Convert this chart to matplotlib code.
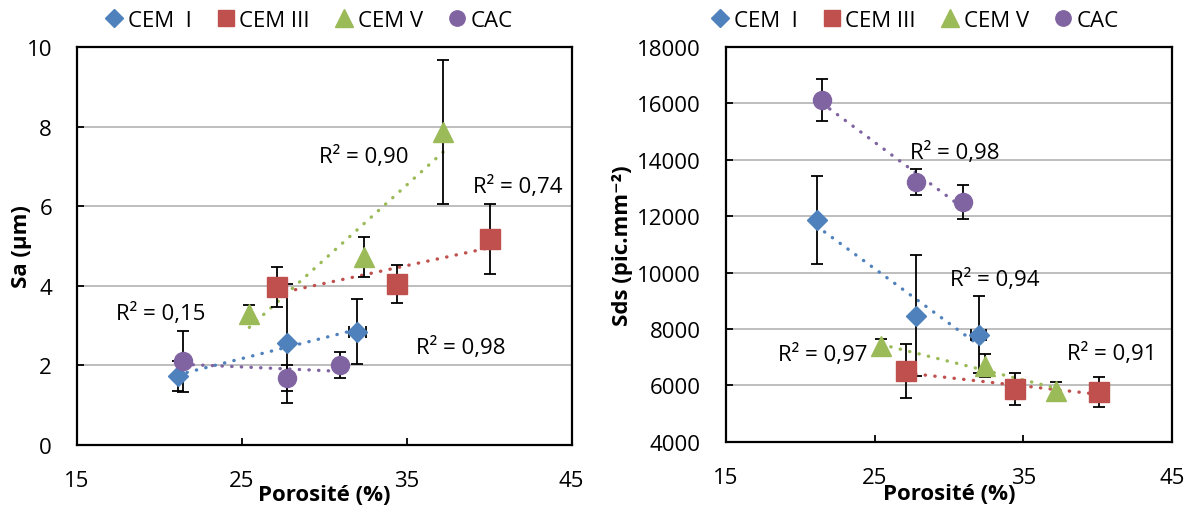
import numpy as np
import matplotlib
matplotlib.use("Agg")
import matplotlib.pyplot as plt

plt.rcParams['font.family'] = ['Open Sans', 'DejaVu Sans']

# porosity (%) for each binder
series = ["CEM  I", "CEM III", "CEM V", "CAC"]
por_cem1 = [21.1, 27.75, 32.0]
por_cem3 = [27.1, 34.4, 40.05]
por_cem5 = [25.45, 32.4, 37.2]
por_cac = [21.45, 27.75, 30.95]
xerr_cem1 = [0.0, 0.0, 0.5]

# Sa (µm)
sa_cem1 = [1.72, 2.55, 2.84]
sa_cem1_err = [0.38, 1.49, 0.82]
sa_cem3 = [3.97, 4.05, 5.18]
sa_cem3_err = [0.50, 0.48, 0.88]
sa_cem5 = [3.29, 4.72, 7.85]
sa_cem5_err = [0.22, 0.50, 1.81]
sa_cac = [2.10, 1.67, 2.00]
sa_cac_err = [0.77, 0.33, 0.33]
sa_r2 = ["R² = 0,90", "R² = 0,74", "R² = 0,15", "R² = 0,98"]
sa_r2_pos = [(32.37, 7.25), (41.7, 6.5), (20.1, 3.3), (38.3, 2.45)]

# Sds (pic.mm-2)
sds_cem1 = [11880, 8470, 7790]
sds_cem1_err = [1560, 2150, 1370]
sds_cem3 = [6500, 5870, 5760]
sds_cem3_err = [960, 570, 520]
sds_cem5 = [7380, 6700, 5800]
sds_cem5_err = [270, 410, 330]
sds_cac = [16120, 13220, 12500]
sds_cac_err = [750, 470, 590]
sds_r2 = ["R² = 0,98", "R² = 0,94", "R² = 0,97", "R² = 0,91"]
sds_r2_pos = [(30.4, 14270), (33.1, 9780), (21.5, 7110), (40.9, 7140)]

colors = ["#4F81BD", "#C0504D", "#9BBB59", "#8064A2"]
markers = ["D", "s", "^", "o"]
msizes = [10.2, 14, 14.5, 13]


def draw_panel(ax, xs, ys, errs, ylim, yticks, ylabel, r2, r2_pos):
    for i in range(4):
        x = np.array(xs[i])
        y = np.array(ys[i])
        xe = xerr_cem1 if i == 0 else None
        ax.errorbar(x, y, yerr=errs[i], xerr=xe, fmt='none', ecolor='black',
                    elinewidth=1.3, capsize=4.5, capthick=1.3, zorder=3)
        # linear trendline
        k, b = np.polyfit(x, y, 1)
        xt = np.linspace(x.min(), x.max(), 50)
        ax.plot(xt, k * xt + b, color=colors[i], lw=2.4,
                linestyle=(0, (0.1, 2.8)), dash_capstyle='round', zorder=2)
        ax.plot(x, y, ls='none', marker=markers[i], ms=msizes[i],
                color=colors[i], mec=colors[i], label=series[i], zorder=4)
    for txt, (tx, ty) in zip(r2, r2_pos):
        ax.text(tx, ty, txt, ha='center', va='center', fontsize=16, zorder=5)

    ax.set_xlim(15, 45)
    ax.set_xticks([15, 25, 35, 45])
    ax.set_ylim(*ylim)
    ax.set_yticks(yticks)
    ax.grid(axis='y', color='#BEBEBE', lw=1.4, zorder=0)
    ax.set_axisbelow(True)
    for s in ax.spines.values():
        s.set_linewidth(1.6)
        s.set_color('black')
    ax.tick_params(axis='both', direction='in', length=5, width=1.3,
                   labelsize=16, pad=18)
    ax.set_xlabel("Porosité (%)", fontsize=16, fontweight='bold')
    ax.xaxis.label.set_va('center')
    ax.yaxis.label.set_va('center')
    ax.set_ylabel(ylabel, fontsize=16, fontweight='bold')


fig = plt.figure(figsize=(11.94, 5.06), dpi=100)
ax1 = fig.add_axes([0.0645, 0.1192, 0.4143, 0.786])
ax2 = fig.add_axes([0.608, 0.1251, 0.3738, 0.78])

draw_panel(ax1, [por_cem1, por_cem3, por_cem5, por_cac],
           [sa_cem1, sa_cem3, sa_cem5, sa_cac],
           [sa_cem1_err, sa_cem3_err, sa_cem5_err, sa_cac_err],
           (0, 10), [0, 2, 4, 6, 8, 10], "Sa (µm)", sa_r2, sa_r2_pos)
ax1.yaxis.set_label_coords(-0.113, 0.5)
ax1.xaxis.set_label_coords(0.5, -0.124)

draw_panel(ax2, [por_cem1, por_cem3, por_cem5, por_cac],
           [sds_cem1, sds_cem3, sds_cem5, sds_cac],
           [sds_cem1_err, sds_cem3_err, sds_cem5_err, sds_cac_err],
           (4000, 18000), list(range(4000, 18001, 2000)),
           "Sds (pic.mm⁻²)", sds_r2, sds_r2_pos)
ax2.yaxis.set_label_coords(-0.231, 0.5)
ax2.xaxis.set_label_coords(0.5, -0.1325)

for ax, cx, cy in [(ax1, 0.469, 1.066), (ax2, 0.4235, 1.067)]:
    ax.legend(loc='center', bbox_to_anchor=(cx, cy), ncol=4, frameon=False,
              fontsize=16, handlelength=0.8, handletextpad=0.2,
              columnspacing=1.15, borderaxespad=0, markerscale=0.85)

fig.savefig("out.png", dpi=100)
